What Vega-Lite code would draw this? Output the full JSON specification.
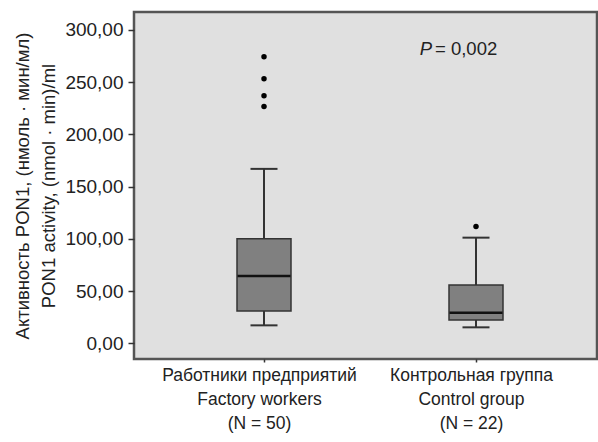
{
  "$schema": "https://vega.github.io/schema/vega-lite/v6.json",
  "width": 463,
  "height": 347,
  "autosize": {"type": "none"},
  "padding": {"left": 134, "top": 12, "right": 1, "bottom": 83},
  "background": "white",
  "config": {
    "font": "Liberation Sans",
    "view": {"fill": "#e0e0e0", "stroke": "#555555", "strokeWidth": 2.5},
    "axis": {"grid": false, "domain": false, "labelColor": "#222222", "titleColor": "#222222", "labelFont": "Liberation Sans", "titleFont": "Liberation Sans"}
  },
  "datasets": {
    "boxes": [
      {"group": "Работники предприятий|Factory workers|(N = 50)", "lower": 17.2, "q1": 30.9, "median": 64.4, "q3": 100.0, "upper": 166.9},
      {"group": "Контрольная группа|Control group|(N = 22)", "lower": 15.3, "q1": 22.3, "median": 29.3, "q3": 55.8, "upper": 101.1}
    ],
    "outliers": [
      {"group": "Работники предприятий|Factory workers|(N = 50)", "value": 274.2},
      {"group": "Работники предприятий|Factory workers|(N = 50)", "value": 253.1},
      {"group": "Работники предприятий|Factory workers|(N = 50)", "value": 236.8},
      {"group": "Работники предприятий|Factory workers|(N = 50)", "value": 226.6},
      {"group": "Контрольная группа|Control group|(N = 22)", "value": 111.7}
    ]
  },
  "encoding": {
    "x": {
      "field": "group",
      "type": "nominal",
      "sort": null,
      "scale": {"type": "point", "range": [130, 342], "padding": 0, "domain": ["Работники предприятий|Factory workers|(N = 50)", "Контрольная группа|Control group|(N = 22)"]},
      "axis": {
        "title": null,
        "labelAngle": 0,
        "labelExpr": "split(datum.label, '|')",
        "labelFontSize": 17.5,
        "labelLineHeight": 24,
        "labelLimit": 0,
        "labelOverlap": false,
        "labelPadding": 4,
        "labelOffset": -5,
        "tickSize": 3,
        "tickColor": "#333333",
        "tickWidth": 1.5
      }
    }
  },
  "layer": [
    {
      "data": {"name": "boxes"},
      "mark": {"type": "rule", "color": "#333333", "strokeWidth": 2},
      "encoding": {
        "y": {
          "field": "lower",
          "type": "quantitative",
          "scale": {"domain": [-15, 317], "nice": false, "zero": false},
          "axis": {
            "values": [0, 50, 100, 150, 200, 250, 300],
            "labelExpr": "replace(format(datum.value, '.2f'), '.', ',')",
            "labelFontSize": 19,
            "labelPadding": 5,
            "tickSize": 6,
            "tickColor": "#333333",
            "tickWidth": 1.5,
            "title": ["Активность PON1, (нмоль · мин/мл)", "PON1 activity, (nmol · min)/ml"],
            "titleFontSize": 18.5,
            "titleFontWeight": "normal",
            "titleLineHeight": 26,
            "titlePadding": 6
          }
        },
        "y2": {"field": "upper"}
      }
    },
    {
      "data": {"name": "boxes"},
      "mark": {"type": "bar", "size": 54, "fill": "#808080", "stroke": "#333333", "strokeWidth": 1.5},
      "encoding": {
        "y": {"field": "q1", "type": "quantitative"},
        "y2": {"field": "q3"}
      }
    },
    {
      "data": {"name": "boxes"},
      "mark": {"type": "tick", "size": 53, "thickness": 2.5, "color": "#111111", "opacity": 1},
      "encoding": {
        "y": {"field": "median", "type": "quantitative"}
      }
    },
    {
      "data": {"name": "boxes"},
      "mark": {"type": "tick", "size": 27, "thickness": 2, "color": "#333333", "opacity": 1},
      "encoding": {
        "y": {"field": "lower", "type": "quantitative"}
      }
    },
    {
      "data": {"name": "boxes"},
      "mark": {"type": "tick", "size": 27, "thickness": 2, "color": "#333333", "opacity": 1},
      "encoding": {
        "y": {"field": "upper", "type": "quantitative"}
      }
    },
    {
      "data": {"name": "outliers"},
      "mark": {"type": "circle", "size": 30, "color": "#000000", "opacity": 1},
      "encoding": {
        "y": {"field": "value", "type": "quantitative"}
      }
    },
    {
      "data": {"values": [{}]},
      "mark": {"type": "text", "text": "P", "fontStyle": "italic", "fontSize": 18.5, "align": "right", "baseline": "alphabetic", "dx": -44, "color": "#222222"},
      "encoding": {
        "x": {"datum": "Контрольная группа|Control group|(N = 22)"},
        "y": {"datum": 276}
      }
    },
    {
      "data": {"values": [{}]},
      "mark": {"type": "text", "text": "= 0,002", "fontSize": 18.5, "align": "left", "baseline": "alphabetic", "dx": -41, "color": "#222222"},
      "encoding": {
        "x": {"datum": "Контрольная группа|Control group|(N = 22)"},
        "y": {"datum": 276}
      }
    }
  ]
}
